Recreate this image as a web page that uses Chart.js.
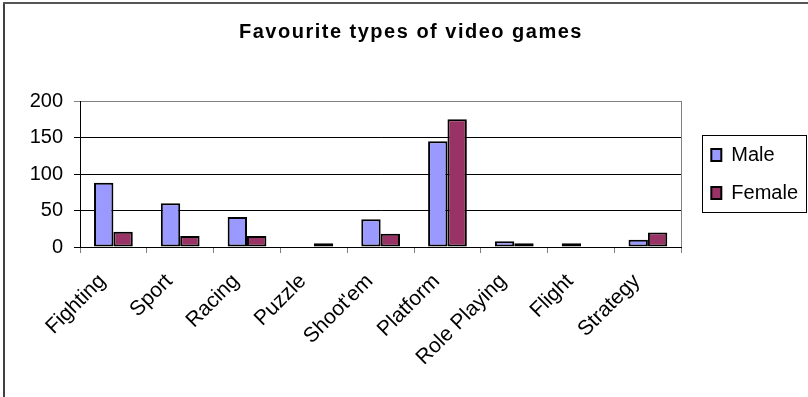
<!DOCTYPE html>
<html>
<head>
<meta charset="utf-8">
<title>Favourite types of video games</title>
<script src="https://cdn.jsdelivr.net/npm/chart.js@4.4.0/dist/chart.umd.min.js"></script>
<style>
  html, body { margin: 0; padding: 0; background: #fff; overflow: hidden; }
  #wrap { position: relative; width: 808px; height: 397px; }
</style>
</head>
<body>
<div id="wrap"><canvas id="gamesChart" width="808" height="397"></canvas></div>
<script>
// survey data
const gameTypes = ['Fighting', 'Sport', 'Racing', 'Puzzle', "Shoot'em", 'Platform', 'Role Playing', 'Flight', 'Strategy'];
const maleVotes = [88, 60, 41, 0, 38, 145, 8, 5, 10];
const femaleVotes = [21, 15, 15, 5, 18, 175, 5, 0, 20];
const yTicks = [0, 50, 100, 150, 200];
const chartTitle = 'Favourite types of video games';

const FONT = "'Liberation Sans', Arial, sans-serif";

// outer frame, plot border, legend box and title
const framePlugin = {
    id: 'frame',
    afterLayout(chart) {
        // keep legend next to the plot, but a bit further right
        const lg = chart.legend;
        const area = chart.chartArea;
        lg.left = area.right + 12;
        lg.right = lg.left + lg.width;
        lg.top = area.top;
        lg.bottom = area.bottom;
        lg.height = area.bottom - area.top;
    },
    beforeDraw(chart) {
        const ctx = chart.ctx;
        ctx.save();
        ctx.fillStyle = '#404040';
        ctx.fillRect(3, 2, 2, chart.height);
        ctx.fillStyle = '#555';
        ctx.fillRect(3, 2, chart.width, 2);
        ctx.restore();
    },
    beforeDatasetsDraw(chart) {
        const ctx = chart.ctx;
        const area = chart.chartArea;
        ctx.save();
        ctx.strokeStyle = '#808080';
        ctx.lineWidth = 1;
        ctx.beginPath();
        ctx.moveTo(Math.round(area.right) + 0.5, area.top);
        ctx.lineTo(Math.round(area.right) + 0.5, area.bottom);
        ctx.stroke();
        ctx.restore();
    },
    afterDraw(chart) {
        const ctx = chart.ctx;
        const lg = chart.legend;
        const mid = (chart.chartArea.top + chart.chartArea.bottom) / 2;
        // legend border
        ctx.save();
        ctx.strokeStyle = '#000';
        ctx.lineWidth = 1;
        ctx.strokeRect(Math.round(lg.left + 9) + 0.5, Math.round(mid - 39) + 0.5, 104, 77);
        ctx.restore();
        // title, with the wide letter spacing
        ctx.save();
        ctx.font = 'bold 20px ' + FONT;
        ctx.fillStyle = '#000';
        ctx.textAlign = 'center';
        ctx.textBaseline = 'alphabetic';
        if ('letterSpacing' in ctx) ctx.letterSpacing = '1.5px';
        ctx.fillText(chartTitle, 411, 38);
        ctx.restore();
    }
};

new Chart(document.getElementById('gamesChart'), {
    type: 'bar',
    data: {
        labels: gameTypes,
        datasets: [{
            label: 'Male',
            data: maleVotes,
            backgroundColor: '#9999FF',
            borderColor: '#000',
            borderWidth: 2,
            borderSkipped: false
        }, {
            label: 'Female',
            data: femaleVotes,
            backgroundColor: '#993366',
            borderColor: '#000',
            borderWidth: 2,
            borderSkipped: false
        }]
    },
    options: {
        responsive: false,
        animation: false,
        datasets: {
            bar: { categoryPercentage: 0.58, barPercentage: 1 }
        },
        layout: {
            padding: { top: 101, left: 0, right: 12, bottom: 0 }
        },
        plugins: {
            title: { display: false },
            tooltip: { enabled: false },
            legend: {
                position: 'right',
                fullSize: false,
                labels: {
                    font: { family: FONT, size: 20 },
                    color: '#000',
                    boxWidth: 10,
                    boxHeight: 12,
                    padding: 18
                }
            }
        },
        scales: {
            x: {
                afterFit: (scale) => { scale.height = 150; },
                grid: {
                    drawOnChartArea: false,
                    drawTicks: true,
                    tickLength: 6,
                    color: '#808080'
                },
                border: { color: '#000', width: 1 },
                ticks: {
                    autoSkip: false,
                    maxRotation: 45,
                    minRotation: 45,
                    padding: 16,
                    labelOffset: -11,
                    color: '#000',
                    font: { family: FONT, size: 21 }
                }
            },
            y: {
                min: 0,
                max: 200,
                afterFit: (scale) => { scale.width = 80; },
                afterBuildTicks: (scale) => { scale.ticks = yTicks.map(v => ({ value: v })); },
                grid: {
                    color: (c) => (c.tick && c.tick.value === 200 ? '#808080' : '#000'),
                    tickLength: 6,
                    lineWidth: 1
                },
                border: { color: '#000', width: 1 },
                ticks: {
                    padding: 11,
                    color: '#000',
                    font: { family: FONT, size: 20 }
                }
            }
        }
    },
    plugins: [framePlugin]
});
</script>
</body>
</html>
